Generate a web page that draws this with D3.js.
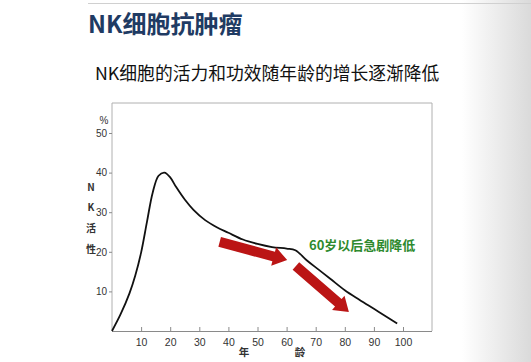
<!DOCTYPE html>
<html><head><meta charset="utf-8">
<script src="https://cdn.jsdelivr.net/npm/d3@7"></script>
<style>
html,body{margin:0;padding:0;background:#fff;}
svg{display:block;}
</style></head>
<body>
<script>
// ---- data ----
const ages   = [0, 3, 6, 8, 10, 12, 14, 16, 18, 20, 22, 25, 28, 32, 36, 40, 45, 50, 55, 60, 63, 67, 71, 75, 80, 85, 90, 95, 98];
const values = [0, 4.3, 9.5, 14, 19.8, 27.5, 35, 39.2, 40, 38.8, 36.4, 33.2, 30.6, 28.0, 26.2, 24.8, 23.1, 22, 21.2, 20.8, 20.4, 17.8, 15.5, 13.2, 10.3, 7.9, 5.6, 3.3, 1.9];
const xTicks = [10, 20, 30, 40, 50, 60, 70, 80, 90, 100];
const yTicks = [10, 20, 30, 40, 50];
const arrowStarts = [[37, 22.5], [63.2, 16.4]];
const arrowEnds   = [[60.2, 17.9], [81.4, 4.8]];
const title = "NK细胞抗肿瘤";
const subtitle = "NK细胞的活力和功效随年龄的增长逐渐降低";
const annotation = "60岁以后急剧降低";
const yLabelChars = ["N", "K", "活", "性"];
const xLabelChars = ["年", "龄"];

// ---- layout ----
const W = 531, H = 362;
const svg = d3.select("body").append("svg").attr("width", W).attr("height", H);
const cjk = "'Noto Sans CJK SC', 'Noto Sans', sans-serif";
const num = "'Liberation Sans', Arial, sans-serif";

const defs = svg.append("defs");
const g = defs.append("linearGradient").attr("id", "bg").attr("x1", 0).attr("x2", 1).attr("y1", 0).attr("y2", 0);
g.append("stop").attr("offset", "0%").attr("stop-color", "#ffffff");
g.append("stop").attr("offset", "87%").attr("stop-color", "#ffffff");
g.append("stop").attr("offset", "100%").attr("stop-color", "#dadada");
svg.append("rect").attr("width", W).attr("height", H).attr("fill", "url(#bg)");

// top thin line
svg.append("line").attr("x1", 88).attr("x2", W).attr("y1", 3.5).attr("y2", 3.5)
  .attr("stroke", "#d0d0d0").attr("stroke-width", 1);

// titles
svg.append("text").attr("x", 88).attr("y", 33).text(title)
  .attr("font-family", cjk).attr("font-weight", 700).attr("font-size", 24).attr("fill", "#1f3b63");
svg.append("text").attr("x", 95).attr("y", 80).text(subtitle)
  .attr("font-family", cjk).attr("font-size", 17.8).attr("fill", "#111");

// scales
const x = d3.scaleLinear().domain([0, 100]).range([112, 403]);
const y = d3.scaleLinear().domain([0, 50]).range([331, 133]);

// frame
const frameTop = 103, frameRight = 432;
svg.append("path")
  .attr("d", `M${x(0)},${y(0)} L${x(0)},${frameTop} L${frameRight},${frameTop} L${frameRight},${y(0)}`)
  .attr("fill", "none").attr("stroke", "#b0b0b0").attr("stroke-width", 1);

// x axis (ticks inside)
const xAxis = svg.append("g").attr("transform", `translate(0,${y(0)})`)
  .call(d3.axisBottom(x).tickValues(xTicks).tickSizeInner(-4).tickSizeOuter(0).tickPadding(8));
xAxis.select(".domain").attr("d", `M${x(0)},0.5H${frameRight}`).attr("stroke", "#8a8a8a");
xAxis.selectAll(".tick line").attr("stroke", "#8a8a8a");
xAxis.selectAll("text").attr("font-family", num).attr("font-size", 10.5).attr("fill", "#333");

// y axis
const yAxis = svg.append("g").attr("transform", `translate(${x(0)},0)`)
  .call(d3.axisLeft(y).tickValues(yTicks).tickSize(3).tickPadding(2));
yAxis.select(".domain").remove();
yAxis.selectAll(".tick line").attr("stroke", "#8a8a8a");
yAxis.selectAll("text").attr("font-family", num).attr("font-size", 10).attr("fill", "#333");

// axis labels
svg.append("text").attr("x", 104).attr("y", 124).attr("text-anchor", "middle").text("%")
  .attr("font-family", num).attr("font-size", 10).attr("fill", "#333");
const yLabY = [191, 211, 232, 253];
svg.selectAll(".ylab").data(yLabelChars).join("text")
  .attr("x", 91).attr("y", (d, i) => yLabY[i]).attr("text-anchor", "middle")
  .attr("font-family", cjk).attr("font-size", 10).attr("font-weight", 700).attr("fill", "#333").text(d => d);
const xLabX = [244, 300];
svg.selectAll(".xlab").data(xLabelChars).join("text")
  .attr("x", (d, i) => xLabX[i]).attr("y", 356).attr("text-anchor", "middle")
  .attr("font-family", cjk).attr("font-size", 10.5).attr("font-weight", 700).attr("fill", "#333").text(d => d);

// curve
const pts = ages.map((a, i) => [a, values[i]]);
svg.append("path").datum(pts)
  .attr("d", d3.line().x(d => x(d[0])).y(d => y(d[1])).curve(d3.curveCatmullRom.alpha(0.5)))
  .attr("fill", "none").attr("stroke", "#111").attr("stroke-width", 1.8);

// arrows
function arrowPath(p0, p1) {
  const x0 = x(p0[0]), y0 = y(p0[1]), x1 = x(p1[0]), y1 = y(p1[1]);
  const dx = x1 - x0, dy = y1 - y0, L = Math.hypot(dx, dy);
  const ux = dx / L, uy = dy / L, nx = -uy, ny = ux;
  const sw = 5, hw = 9.5, hl = 14;
  const bx = x1 - ux * hl, by = y1 - uy * hl;
  const P = [
    [x0 + nx * sw, y0 + ny * sw], [bx + nx * sw, by + ny * sw], [bx + nx * hw, by + ny * hw],
    [x1, y1],
    [bx - nx * hw, by - ny * hw], [bx - nx * sw, by - ny * sw], [x0 - nx * sw, y0 - ny * sw]
  ];
  return "M" + P.map(p => p.join(",")).join("L") + "Z";
}
svg.selectAll(".arrow").data(arrowStarts.map((s, i) => [s, arrowEnds[i]])).join("path")
  .attr("d", d => arrowPath(d[0], d[1])).attr("fill", "#bb1515");

// annotation
svg.append("text").attr("x", 309).attr("y", 250).text(annotation)
  .attr("font-family", cjk).attr("font-weight", 700).attr("font-size", 13).attr("fill", "#2e8a2e");
</script>
</body></html>
